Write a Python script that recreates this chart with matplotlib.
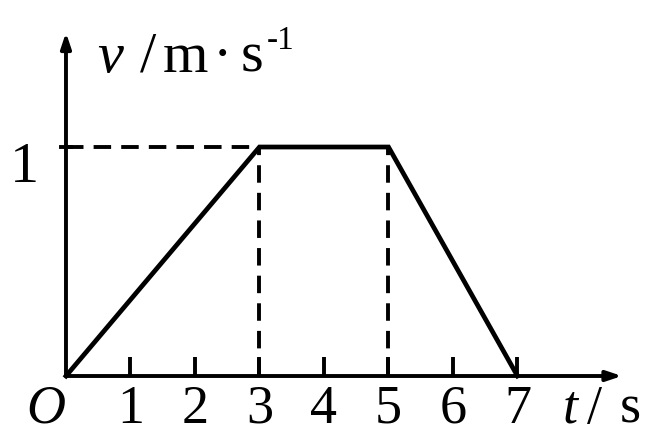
import matplotlib
matplotlib.use("Agg")
import matplotlib.pyplot as plt

# v-t graph data
t_points = [0, 3, 5, 7]
v_points = [0, 1, 1, 0]
x_ticks = [1, 2, 3, 4, 5, 6, 7]
dash_times = [3, 5]
v_level = 1

SERIF = ["Liberation Serif", "DejaVu Serif"]
FS = 42
FS_BOTTOM = 39
BASE = -0.205


def main():
    fig = plt.figure(figsize=(6.47, 4.36), dpi=100)
    ax = fig.add_axes([0, 0, 1, 1])
    ax.set_xlim(-1.023, 9.008)
    ax.set_ylim(-0.262, 1.642)
    ax.axis("off")

    # axes with arrows
    arrow = dict(arrowstyle="-|>,head_length=0.9,head_width=0.3", color="black",
                 lw=2.8, shrinkA=0, shrinkB=0)
    ax.annotate("", xy=(8.62, 0), xytext=(0, 0), arrowprops=arrow)
    ax.annotate("", xy=(0, 1.50), xytext=(0, 0), arrowprops=arrow)

    # ticks on t axis
    for xt in x_ticks:
        ax.plot([xt, xt], [0, 0.085], color="black", lw=2.8, solid_capstyle="butt")
        ax.text(xt, BASE, str(xt), ha="center", va="baseline", fontsize=FS_BOTTOM,
                family=SERIF)
    ax.plot([-0.08, 0.08], [v_level, v_level], color="black", lw=2.8)

    # dashed guides
    dash = (0, (4.5, 2.6))
    ax.plot([0, t_points[1]], [v_level, v_level], color="black", lw=2.8,
            linestyle=dash)
    for xt in dash_times:
        ax.plot([xt, xt], [0, v_level], color="black", lw=2.8, linestyle=dash)

    # graph line
    ax.plot(t_points, v_points, color="black", lw=3.4, solid_joinstyle="miter")

    # axis labels
    ax.text(-0.31, BASE, "O", ha="center", va="baseline", fontsize=FS_BOTTOM,
            family=SERIF, style="italic")
    ax.text(-0.65, 0.847, "1", ha="center", va="baseline", fontsize=FS,
            family=SERIF)
    ax.text(7.705, BASE, "t", ha="left", va="baseline", fontsize=FS_BOTTOM,
            family=SERIF, style="italic")
    ax.text(8.08, BASE, "/", ha="left", va="baseline", fontsize=FS_BOTTOM,
            family=SERIF)
    ax.text(8.59, BASE, "s", ha="left", va="baseline", fontsize=FS_BOTTOM,
            family=SERIF)

    ax.text(0.48, 1.328, "v", ha="left", va="baseline", fontsize=FS,
            family=SERIF, style="italic")
    ax.text(1.147, 1.328, "/", ha="left", va="baseline", fontsize=FS, family=SERIF)
    ax.text(1.504, 1.328, "m", ha="left", va="baseline", fontsize=FS, family=SERIF)
    ax.text(2.42, 1.328, "·", ha="center", va="baseline", fontsize=FS, family=SERIF)
    ax.text(2.70, 1.328, "s", ha="left", va="baseline", fontsize=FS, family=SERIF)
    ax.text(3.12, 1.428, "-1", ha="left", va="baseline", fontsize=24,
            family=SERIF)

    fig.savefig("out.png", dpi=100)


if __name__ == "__main__":
    main()
